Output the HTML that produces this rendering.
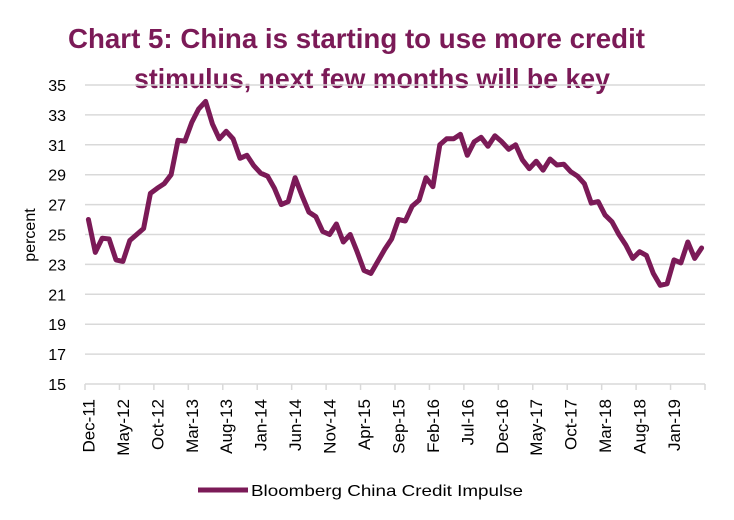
<!DOCTYPE html>
<html><head><meta charset="utf-8"><style>
html,body{margin:0;padding:0;background:#fff;}
svg{display:block;font-family:"Liberation Sans",sans-serif;}
</style></head><body>
<svg id="chart" width="734" height="520" viewBox="0 0 734 520" xmlns="http://www.w3.org/2000/svg">
<g id="title" fill="#7b1a57" font-weight="bold" font-size="28">
<text x="68" y="48" textLength="577" lengthAdjust="spacingAndGlyphs">Chart 5: China is starting to use more credit</text>
<text x="134" y="88" textLength="476" lengthAdjust="spacingAndGlyphs">stimulus, next few months will be key</text>
</g>
<g id="grid"></g>
<g id="yticks"></g>
<g id="xaxis"></g>
<g id="series"></g>
<text x="0" y="0" font-size="16" fill="#000" text-anchor="middle" transform="translate(35,235) rotate(-90)">percent</text>
<g>
<line x1="198" y1="490" x2="248" y2="490" stroke="#7b1a57" stroke-width="5"/>
<text x="251" y="496" font-size="16" fill="#000" textLength="272" lengthAdjust="spacingAndGlyphs">Bloomberg China Credit Impulse</text>
</g>
</svg>
<script>
const tickLabels = ["Dec-11","May-12","Oct-12","Mar-13","Aug-13","Jan-14","Jun-14","Nov-14","Apr-15","Sep-15","Feb-16","Jul-16","Dec-16","May-17","Oct-17","Mar-18","Aug-18","Jan-19"];
const yTicks = [15,17,19,21,23,25,27,29,31,33,35];
const impulse = [26.0,23.8,24.75,24.7,23.3,23.2,24.6,25.0,25.4,27.75,28.1,28.4,29.0,31.3,31.25,32.5,33.4,33.9,32.4,31.4,31.9,31.4,30.1,30.3,29.6,29.1,28.9,28.1,27.0,27.2,28.8,27.6,26.5,26.2,25.2,25.0,25.7,24.5,25.0,23.85,22.6,22.4,23.2,24.0,24.7,26.0,25.9,26.9,27.3,28.8,28.2,31.0,31.4,31.4,31.7,30.3,31.2,31.5,30.9,31.6,31.2,30.7,31.0,30.0,29.4,29.9,29.3,30.05,29.65,29.7,29.2,28.9,28.4,27.1,27.2,26.3,25.85,25.0,24.3,23.4,23.85,23.6,22.4,21.6,21.7,23.3,23.1,24.5,23.4,24.1];

const NS="http://www.w3.org/2000/svg";
const X0=85, X1=705, Y0=384, Y1=85, VMIN=15, VMAX=35;
const n=impulse.length;
const step=(X1-X0)/n;
function xPos(i){return X0+(i+0.5)*step;}
function yPos(v){return Y0-(v-VMIN)/(VMAX-VMIN)*(Y0-Y1);}
function mk(tag,attrs,parent){const e=document.createElementNS(NS,tag);for(const k in attrs)e.setAttribute(k,attrs[k]);parent.appendChild(e);return e;}

const grid=document.getElementById('grid'), yt=document.getElementById('yticks');
yTicks.forEach(v=>{
  if(v>VMIN){const g=mk('line',{x1:X0,x2:X1,y1:yPos(v),y2:yPos(v),stroke:'#d9d9d9','stroke-width':1.5},grid);
  
  }
  const t=mk('text',{x:66,y:yPos(v)+6,'font-size':16,'text-anchor':'end',fill:'#000'},yt);
  t.textContent=v;
  
  
});

const xa=document.getElementById('xaxis');
const ax=mk('line',{x1:X0,x2:X1,y1:Y0,y2:Y0,stroke:'#d9d9d9','stroke-width':1.5},xa);


for(let i=0;i<=n;i+=5){
  const tk=mk('line',{x1:X0+i*step,x2:X0+i*step,y1:Y0,y2:Y0+6,stroke:'#d9d9d9','stroke-width':1.5},xa);
  
  
}
tickLabels.forEach((lab,k)=>{
  const x=xPos(k*5)+6;
  const t=mk('text',{x:0,y:0,'font-size':17,'text-anchor':'end',fill:'#000',transform:`translate(${x},399) rotate(-90)`},xa);
  t.textContent=lab;
  
  
});

const pts=impulse.map((v,i)=>xPos(i).toFixed(1)+','+yPos(v).toFixed(1)).join(' ');
const pl=mk('polyline',{points:pts,fill:'none',stroke:'#7b1a57','stroke-width':5,'stroke-linejoin':'round','stroke-linecap':'round'},document.getElementById('series'));


</script>
</body></html>
